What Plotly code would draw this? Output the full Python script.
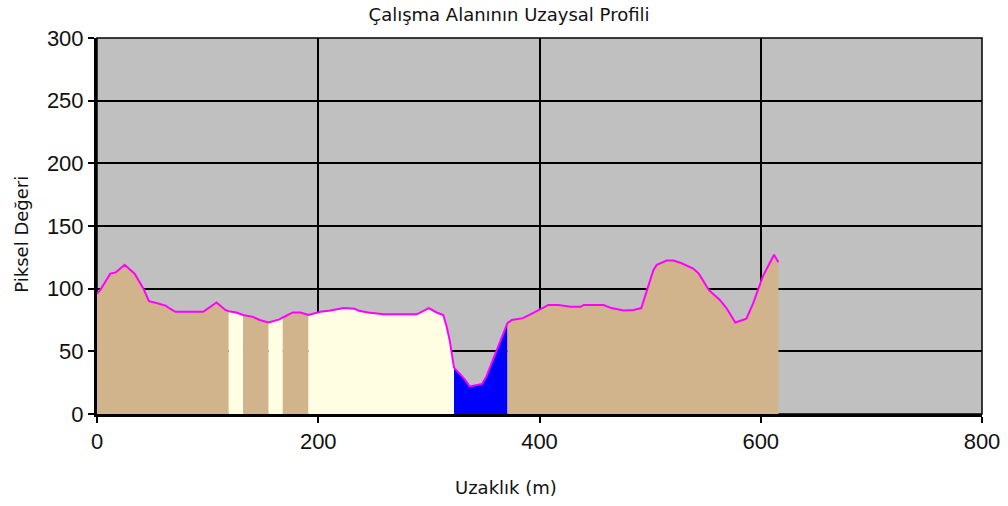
import plotly.graph_objects as go

# Spatial profile of the study area: distance (m) vs. pixel value
distance = [0, 3, 12, 17, 25, 30, 34, 42, 47, 52, 57, 62, 66, 71, 96, 108, 116, 119,
            126, 132, 141, 147, 155, 165, 168, 177, 184, 191, 202, 211, 223, 233, 236,
            245, 259, 289, 300, 307, 313, 316, 319, 322.7, 328, 333, 337, 348, 352, 358,
            364, 371, 375, 385, 394, 408, 417, 428, 437, 440, 458, 465, 476, 485, 492,
            497, 503, 506, 515, 521, 528, 539, 544, 553, 563, 569, 577, 587, 593, 602,
            612, 616]
pixel_value = [96, 99, 112, 113, 119, 115, 112, 100, 90, 89, 87.5, 86.5, 84, 81.5, 81.5,
               89, 83, 82, 81, 79, 77.5, 75, 73, 75.5, 77, 81, 81, 79, 81.5, 82.5, 84.5,
               84, 82.5, 81, 79.5, 79.5, 84.5, 81, 79, 70, 58, 37, 32, 27, 22, 24, 30,
               43, 56, 72.5, 75, 76.5, 80.5, 87, 87, 85.5, 85.5, 87, 87, 84.5, 82.5, 83,
               84.5, 99, 115, 119, 122.5, 122.5, 120.5, 116, 112, 99, 91, 84.5, 73, 76,
               88, 110, 127, 121]

# Land-cover classes along the profile
band_start = [0, 119, 132, 155, 168, 191, 322.7, 371]
band_end = [119, 132, 155, 168, 191, 322.7, 371, 616]
band_class = ["arazi", "yerleşim", "arazi", "yerleşim", "arazi", "yerleşim", "su", "arazi"]

x_ticks = [0, 200, 400, 600, 800]
y_ticks = [0, 50, 100, 150, 200, 250, 300]

class_color = {"arazi": "#D2B48C", "yerleşim": "#FFFDE2", "su": "#0000FF"}

fig = go.Figure()

for s, e, c in zip(band_start, band_end, band_class):
    xs = [d for d in distance if s <= d <= e]
    ys = [v for d, v in zip(distance, pixel_value) if s <= d <= e]
    fig.add_trace(go.Scatter(
        x=xs, y=ys, mode="lines", fill="tozeroy",
        fillcolor=class_color[c], line=dict(width=0, color=class_color[c]),
        hoverinfo="skip", showlegend=False,
    ))

fig.add_trace(go.Scatter(
    x=distance, y=pixel_value, mode="lines",
    line=dict(color="#FF00FF", width=2), showlegend=False,
))

tick_font = dict(family="Liberation Sans, Arial, sans-serif", size=22, color="#111111")
label_font = dict(family="DejaVu Sans, sans-serif", size=18, color="#111111")

axis_common = dict(
    showgrid=True, gridcolor="#000000", gridwidth=1.5,
    showline=True, linecolor="#000000", linewidth=3, layer="below traces",
    ticks="outside", ticklen=6, tickwidth=1.5, tickcolor="#000000",
    zeroline=False, tickfont=tick_font, automargin=False,
    ticklabeloverflow="allow",
)

fig.update_layout(
    width=1008, height=506,
    margin=dict(l=97, r=26, t=38, b=92),
    paper_bgcolor="#FFFFFF", plot_bgcolor="#C0C0C0",
    title=dict(text="Çalışma Alanının Uzaysal Profili", x=0.505, xref="container",
               y=0.97, yref="container", yanchor="middle", xanchor="center",
               font=label_font),
    xaxis=dict(range=[0, 800], tickvals=x_ticks, ticktext=[str(t) for t in x_ticks], **axis_common),
    yaxis=dict(range=[0, 300], tickvals=y_ticks, ticktext=[str(t) for t in y_ticks], **axis_common),
    shapes=[dict(type="rect", xref="paper", yref="paper", x0=0, x1=1, y0=0, y1=1,
                 line=dict(color="#000000", width=1.5), layer="below")],
    annotations=[
        dict(text="Uzaklık (m)", xref="paper", yref="paper", x=0.462, y=-0.195,
             xanchor="center", yanchor="middle", showarrow=False, font=label_font),
        dict(text="Piksel Değeri", xref="paper", yref="paper", x=-0.085, y=0.479,
             xanchor="center", yanchor="middle", textangle=-90, showarrow=False,
             font=label_font),
    ],
)

fig.write_html("out.html")
